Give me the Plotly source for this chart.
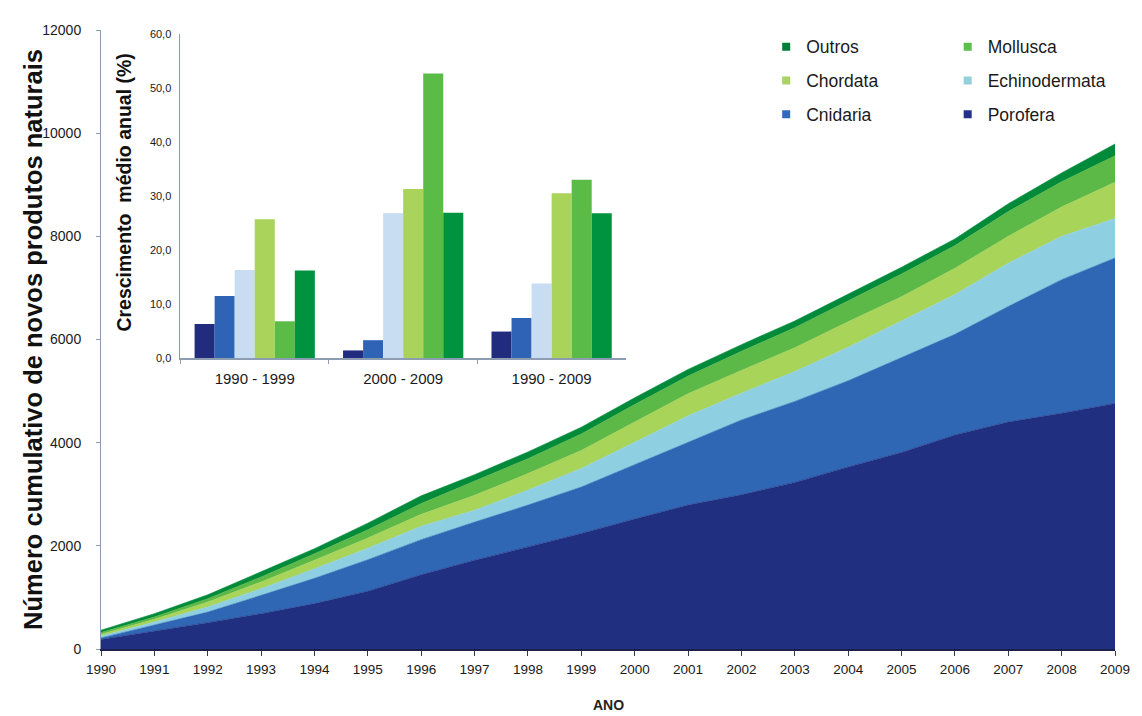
import plotly.graph_objects as go

# ---------------- data ----------------
years = list(range(1990, 2010))

# yearly thickness of each stacked layer (cumulative number of new natural products)
porofera      = [185, 345, 510, 685, 880, 1120, 1440, 1720, 1980, 2240, 2520, 2790, 2990, 3230, 3530, 3810, 4150, 4400, 4570, 4760]
cnidaria      = [30, 115, 205, 355, 490, 610, 680, 740, 810, 900, 1050, 1210, 1450, 1570, 1670, 1840, 1950, 2240, 2590, 2820]
echinodermata = [35, 65, 100, 130, 185, 225, 260, 230, 290, 360, 440, 520, 520, 580, 650, 710, 770, 840, 840, 765]
chordata      = [35, 50, 95, 130, 165, 195, 230, 290, 320, 350, 390, 430, 440, 460, 495, 470, 510, 520, 570, 705]
mollusca      = [35, 45, 65, 95, 125, 160, 210, 270, 290, 320, 340, 340, 370, 390, 405, 440, 440, 480, 490, 510]
outros        = [45, 65, 75, 95, 100, 130, 150, 130, 130, 130, 130, 130, 130, 130, 130, 130, 130, 150, 170, 230]

series_names = ["Porofera", "Cnidaria", "Echinodermata", "Chordata", "Mollusca", "Outros"]
series_values = [porofera, cnidaria, echinodermata, chordata, mollusca, outros]

# inset: mean annual growth (%)
periods = ["1990 - 1999", "2000 - 2009", "1990 - 2009"]
growth_porofera      = [6.3, 1.4, 4.9]
growth_cnidaria      = [11.5, 3.3, 7.4]
growth_echinodermata = [16.3, 26.8, 13.8]
growth_chordata      = [25.7, 31.3, 30.5]
growth_mollusca      = [6.8, 52.7, 33.0]
growth_outros        = [16.2, 26.9, 26.8]
growth_values = [growth_porofera, growth_cnidaria, growth_echinodermata,
                 growth_chordata, growth_mollusca, growth_outros]

y_ticks = [0, 2000, 4000, 6000, 8000, 10000, 12000]
inset_ticks = [0, 10, 20, 30, 40, 50, 60]

legend_col1 = ["Outros", "Chordata", "Cnidaria"]
legend_col2 = ["Mollusca", "Echinodermata", "Porofera"]

# ---------------- styles ----------------
area_colors = {"Porofera": "#212F80", "Cnidaria": "#2F67B4", "Echinodermata": "#8ECFE2",
               "Chordata": "#A8D45A", "Mollusca": "#5DB947", "Outros": "#008A3A"}
bar_colors = {"Porofera": "#222C7E", "Cnidaria": "#2F63B6", "Echinodermata": "#C9DDF2",
              "Chordata": "#A9D35B", "Mollusca": "#5BBB47", "Outros": "#00933F"}
legend_colors = {"Porofera": "#23308A", "Cnidaria": "#3169C0", "Echinodermata": "#93CFDC",
                 "Chordata": "#A8D463", "Mollusca": "#5BBF4B", "Outros": "#007F3A"}

FONT = "Arial, 'Liberation Sans', sans-serif"
AXIS_GREY = "#8C9DB2"
TEXT = "#1a1a1a"

fig = go.Figure()

# stacked areas
for name, vals in zip(series_names, series_values):
    fig.add_trace(go.Scatter(
        x=years, y=vals, name=name, stackgroup="cum", mode="lines",
        line=dict(width=0.6, color=area_colors[name]),
        fillcolor=area_colors[name], showlegend=False,
    ))

# inset bars
for name, vals in zip(series_names, growth_values):
    fig.add_trace(go.Bar(
        x=periods, y=vals, name=name, xaxis="x2", yaxis="y2",
        marker=dict(color=bar_colors[name], line=dict(width=0)),
        showlegend=False,
    ))

# legend entries (two columns)
for lg, names in (("legend", legend_col1), ("legend2", legend_col2)):
    for name in names:
        fig.add_trace(go.Scatter(
            x=[None], y=[None], mode="markers", name=name,
            marker=dict(symbol="square", size=8, color=legend_colors[name]),
            legend=lg, legendgroup=name, showlegend=True,
        ))

legend_common = dict(xanchor="left", yanchor="top", bgcolor="rgba(0,0,0,0)",
                     font=dict(size=17.5, family=FONT, color=TEXT),
                     tracegroupgap=8, itemwidth=30)

fig.update_layout(
    width=1142, height=716,
    margin=dict(l=101, r=21, t=30, b=67),
    paper_bgcolor="white", plot_bgcolor="white",
    separators=",.",
    font=dict(family=FONT, color=TEXT),
    barmode="group", bargap=0.19, bargroupgap=0,
    xaxis=dict(
        range=[1990, 2009], tickmode="array", tickvals=years,
        ticks="outside", ticklen=5, tickcolor="#333a55", tickwidth=1,
        showline=True, linecolor="#1b1f4a", linewidth=2,
        showgrid=False, zeroline=False,
        tickfont=dict(size=13.5, family=FONT, color=TEXT),
        ticklabelstandoff=2,
    ),
    yaxis=dict(
        range=[0, 12000], tickmode="array", tickvals=y_ticks, tickformat="d",
        ticks="outside", ticklen=4, tickcolor=AXIS_GREY,
        showline=True, linecolor=AXIS_GREY, linewidth=1,
        showgrid=False, zeroline=False,
        tickfont=dict(size=14, family=FONT, color=TEXT),
        ticklabelstandoff=12,
    ),
    xaxis2=dict(
        domain=[0.0784, 0.5176], anchor="y2",
        showline=True, linecolor=AXIS_GREY, linewidth=2,
        ticks="outside", tickson="boundaries", ticklen=4, tickcolor=AXIS_GREY,
        showgrid=False, zeroline=False,
        tickfont=dict(size=15, family=FONT, color=TEXT),
        ticklabelstandoff=6,
    ),
    yaxis2=dict(
        domain=[0.4701, 0.9935], anchor="x2",
        range=[0, 60], tickmode="array", tickvals=inset_ticks, tickformat=".1f",
        showline=True, linecolor=AXIS_GREY, linewidth=1,
        ticks="", showgrid=False, zeroline=False,
        tickfont=dict(size=11, family=FONT, color=TEXT),
        ticklabelstandoff=6,
    ),
    legend=dict(x=0.656, y=1.002, **legend_common),
    legend2=dict(x=0.835, y=1.002, **legend_common),
    annotations=[
        dict(text="<b>Número cumulativo de novos produtos naturais</b>",
             xref="paper", yref="paper", x=-0.0676, y=0.50,
             xanchor="center", yanchor="middle", textangle=-90, showarrow=False,
             font=dict(size=25.5, family=FONT, color="#111111")),
        dict(text="<b>Crescimento  médio anual (%)</b>",
             xref="paper", yref="paper", x=0.0225, y=0.737,
             xanchor="center", yanchor="middle", textangle=-90, showarrow=False,
             font=dict(size=19.5, family=FONT, color="#111111")),
        dict(text="<b>ANO</b>",
             xref="paper", yref="paper", x=0.5, y=-0.0905,
             xanchor="center", yanchor="middle", showarrow=False,
             font=dict(size=14, family=FONT, color="#222222")),
    ],
)

fig.write_html("out.html")
